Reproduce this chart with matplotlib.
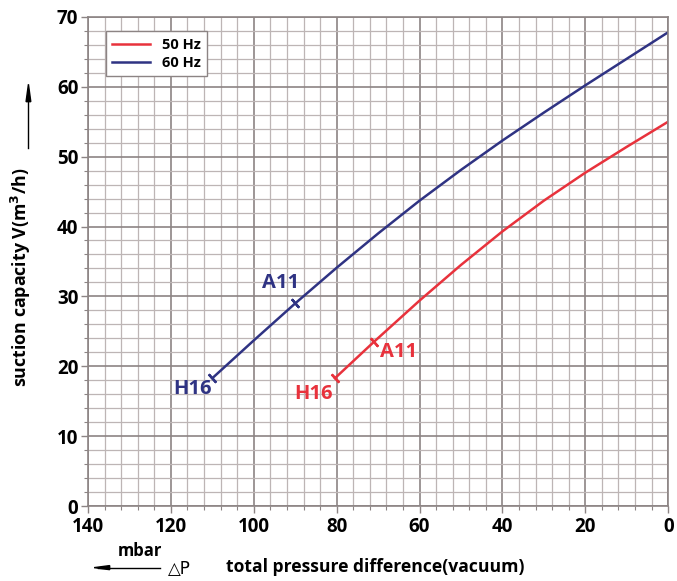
import numpy as np
import matplotlib.pyplot as plt
from matplotlib.ticker import MultipleLocator

plt.rcParams['font.family'] = ['Open Sans', 'DejaVu Sans']

###--- Data
# 60 Hz curve (blue), pressure difference in mbar vs suction capacity in m3/h
dp_60 = [110, 100, 90, 80, 70, 60, 50, 40, 30, 20, 10, 0]
v_60 = [18.3, 23.7, 29.0, 34.1, 39.0, 43.7, 48.1, 52.3, 56.3, 60.2, 64.0, 67.8]

# 50 Hz curve (red)
dp_50 = [80.4, 71, 60, 50, 40, 30, 20, 10, 0]
v_50 = [18.3, 23.5, 29.4, 34.5, 39.3, 43.7, 47.7, 51.4, 55.0]

# A11 / H16 marks on each curve
marks_60 = {'A11': (90, 29.0), 'H16': (110, 18.3)}
marks_50 = {'A11': (71, 23.5), 'H16': (80.4, 18.3)}

red = '#e8323c'
blue = '#2f3383'
grid_minor = '#bdb5b5'
grid_major = '#8c8484'

fig = plt.figure(figsize=(6.77, 5.81), dpi=100)
ax = fig.add_axes([0.130, 0.129, 0.857, 0.842])

ax.set_xlim(140, 0)
ax.set_ylim(0, 70)
ax.xaxis.set_major_locator(MultipleLocator(20))
ax.xaxis.set_minor_locator(MultipleLocator(4))
ax.yaxis.set_major_locator(MultipleLocator(10))
ax.yaxis.set_minor_locator(MultipleLocator(2))
ax.grid(which='minor', color=grid_minor, lw=0.9)
ax.grid(which='major', color=grid_major, lw=1.2)
ax.set_axisbelow(True)
for s in ax.spines.values():
    s.set_color(grid_major)
    s.set_linewidth(1.2)
ax.tick_params(which='major', length=5, color=grid_major, width=1.0,
               labelsize=13.5)
ax.tick_params(which='minor', length=3, color=grid_major, width=0.8)
for lab in ax.get_xticklabels() + ax.get_yticklabels():
    lab.set_fontweight('bold')
ax.tick_params(axis='y', pad=2)
ax.tick_params(axis='x', pad=3)

ax.plot(dp_50, v_50, color=red, lw=1.8, label='50 Hz')
ax.plot(dp_60, v_60, color=blue, lw=1.8, label='60 Hz')

leg = ax.legend(loc='upper left', bbox_to_anchor=(0.018, 0.985), fancybox=False,
                edgecolor=grid_major, framealpha=1, handlelength=2.6,
                prop={'weight': 'bold', 'size': 10.5}, borderpad=0.45,
                labelspacing=0.25)
leg.get_frame().set_linewidth(1.0)

fig.canvas.draw()


def perp_angle(x, y, xs, ys):
    # angle of curve at point, in display coords
    i = int(np.argmin(np.abs(np.array(xs) - x)))
    j = i + 1 if i + 1 < len(xs) else i - 1
    p0 = ax.transData.transform((xs[min(i, j)], ys[min(i, j)]))
    p1 = ax.transData.transform((xs[max(i, j)], ys[max(i, j)]))
    return np.degrees(np.arctan2(p0[1] - p1[1], p0[0] - p1[0]))


for marks, xs, ys, c in [(marks_60, dp_60, v_60, blue), (marks_50, dp_50, v_50, red)]:
    for name, (mx, my) in marks.items():
        ang = perp_angle(mx, my, xs, ys)
        ax.plot(mx, my, marker=(2, 2, ang), ms=8, mew=1.7, color=c)

# labels next to the marks
ax.text(93.5, 31.9, 'A11', color=blue, fontsize=14.5, fontweight='bold',
        ha='center', va='center')
ax.text(114.7, 16.8, 'H16', color=blue, fontsize=14.5, fontweight='bold',
        ha='center', va='center')
ax.text(65.0, 22.0, 'A11', color=red, fontsize=14.5, fontweight='bold',
        ha='center', va='center')
ax.text(85.5, 16.1, 'H16', color=red, fontsize=14.5, fontweight='bold',
        ha='center', va='center')

# axis titles with arrows
fig.text(0.031, 0.522, 'suction capacity V(m$^\\mathbf{3}$/h)', rotation=90,
         fontsize=12.8, fontweight='bold', ha='center', va='center')
fig.add_artist(plt.Line2D([0.042, 0.042], [0.745, 0.84], color='black', lw=1.0,
                          transform=fig.transFigure))
fig.patches.append(plt.Polygon([[0.0385, 0.825], [0.0455, 0.825], [0.042, 0.855]],
                               closed=True, color='black', transform=fig.transFigure))

fig.text(0.174, 0.052, 'mbar', fontsize=12, fontweight='bold',
         ha='left', va='center')
fig.add_artist(plt.Line2D([0.145, 0.237], [0.023, 0.023], color='black', lw=1.0,
                          transform=fig.transFigure))
fig.patches.append(plt.Polygon([[0.139, 0.023], [0.162, 0.0195], [0.162, 0.0265]],
                               closed=True, color='black', transform=fig.transFigure))
fig.text(0.248, 0.021, '\u25b3P', fontsize=12, ha='left', va='center',
         family=['DejaVu Sans'])
fig.text(0.334, 0.024, 'total pressure difference(vacuum)', fontsize=12.6,
         fontweight='bold', ha='left', va='center')

fig.savefig('out.png', dpi=100)
